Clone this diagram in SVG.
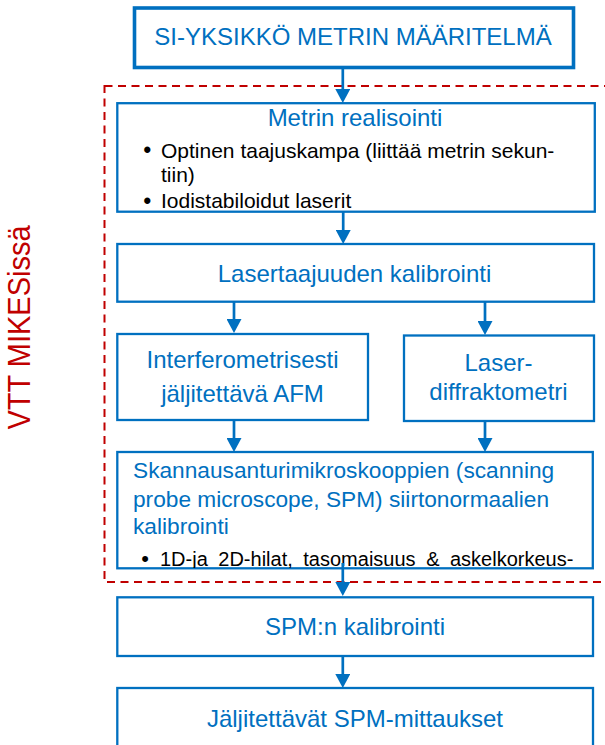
<svg xmlns="http://www.w3.org/2000/svg" width="605" height="745" viewBox="0 0 605 745">
  <style>
    .box { fill: #ffffff; stroke: #0070C0; stroke-width: 2.3; }
    .box-main { fill: #ffffff; stroke: #0070C0; stroke-width: 3.6; }
    .t { font-family: "Liberation Sans", Arial, sans-serif; fill: #0070C0; }
    .b { font-family: "Liberation Sans", Arial, sans-serif; fill: #000000; }
    .mid { text-anchor: middle; }
    .conn { stroke: #0070C0; stroke-width: 2.7; fill: none; marker-end: url(#arrow); }
    .scope { fill: none; stroke: #C00000; stroke-width: 2; stroke-dasharray: 8 5.5; }
  </style>
  <defs>
    <marker id="arrow" viewBox="0 0 14 15" markerWidth="14" markerHeight="15" refX="0" refY="7.5" orient="auto" markerUnits="userSpaceOnUse">
      <path d="M0,0 L14,7.5 L0,15 Z" fill="#0070C0"/>
    </marker>
    <clipPath id="clip-spm-standards">
      <rect x="117" y="452" width="476" height="116"/>
    </clipPath>
  </defs>

  <rect width="605" height="745" fill="#ffffff"/>

  <!-- scope of work done at VTT MIKES -->
  <g id="mikes-scope">
    <rect class="scope" x="104.5" y="86" width="520" height="496"/>
    <text transform="translate(30,327.5) rotate(-90) scale(1,1.08)" text-anchor="middle" font-family="Liberation Sans, Arial, sans-serif" font-size="29" fill="#C00000">VTT MIKESissä</text>
  </g>

  <g id="si-definition">
    <rect class="box-main" x="134.5" y="8" width="439" height="59.5"/>
    <text class="t mid" x="353" y="45" font-size="24">SI-YKSIKKÖ METRIN MÄÄRITELMÄ</text>
  </g>

  <g id="metre-realisation">
    <rect class="box" x="117.3" y="103.2" width="477.5" height="108.5"/>
    <text class="t mid" x="355" y="126" font-size="24">Metrin realisointi</text>
    <text class="b" x="143.3" y="158.2" font-size="23">•</text>
    <text class="b" x="161" y="157.7" font-size="21">Optinen taajuskampa (liittää metrin sekun-</text>
    <text class="b" x="161" y="181.7" font-size="21">tiin)</text>
    <text class="b" x="143.3" y="208.8" font-size="23">•</text>
    <text class="b" x="161" y="208.3" font-size="21">Iodistabiloidut laserit</text>
  </g>

  <g id="laser-frequency">
    <rect class="box" x="117.3" y="244" width="476.7" height="57.7"/>
    <text class="t mid" x="354.5" y="282.3" font-size="24">Lasertaajuuden kalibrointi</text>
  </g>

  <g id="interferometric-afm">
    <rect class="box" x="117.3" y="334" width="250.7" height="86"/>
    <text class="t mid" x="242.5" y="368" font-size="24">Interferometrisesti</text>
    <text class="t mid" x="242.5" y="402" font-size="24">jäljitettävä AFM</text>
  </g>

  <g id="laser-diffractometer">
    <rect class="box" x="404" y="335.5" width="190" height="85.5"/>
    <text class="t mid" x="498.5" y="371" font-size="24">Laser-</text>
    <text class="t mid" x="498.5" y="400" font-size="24">diffraktometri</text>
  </g>

  <g id="spm-standards">
    <rect class="box" x="117.3" y="452" width="475.5" height="116.3"/>
    <text class="t" x="133" y="478.3" font-size="22.7">Skannausanturimikroskooppien (scanning</text>
    <text class="t" x="133" y="507.3" font-size="22.7">probe microscope, SPM) siirtonormaalien</text>
    <text class="t" x="133" y="534" font-size="22.7">kalibrointi</text>
    <!-- justified bullet line, cut off by the box edge -->
    <g clip-path="url(#clip-spm-standards)" class="b" font-size="20">
      <text x="141.3" y="566.2" font-size="22">•</text>
      <text x="160" y="565.7">1D-ja</text>
      <text x="218.3" y="565.7">2D-hilat,</text>
      <text x="303.3" y="565.7">tasomaisuus</text>
      <text x="426.2" y="565.7">&amp;</text>
      <text x="450" y="565.7">askelkorkeus-</text>
    </g>
  </g>

  <g id="spm-calibration">
    <rect class="box" x="117.3" y="597.3" width="475.7" height="58.7"/>
    <text class="t mid" x="355" y="635" font-size="24">SPM:n kalibrointi</text>
  </g>

  <g id="traceable-spm">
    <rect class="box" x="117.3" y="688" width="475.7" height="80"/>
    <text class="t mid" x="355" y="727" font-size="24">Jäljitettävät SPM-mittaukset</text>
  </g>

  <g id="connectors">
    <line class="conn" x1="342.8" y1="67" x2="342.8" y2="89"/>
    <line class="conn" x1="343.2" y1="211.5" x2="343.2" y2="230"/>
    <line class="conn" x1="234" y1="302" x2="234" y2="319"/>
    <line class="conn" x1="485" y1="302" x2="485" y2="321"/>
    <line class="conn" x1="234" y1="420" x2="234" y2="438"/>
    <line class="conn" x1="485" y1="421" x2="485" y2="438"/>
    <line class="conn" x1="342.8" y1="563" x2="342.8" y2="582"/>
    <line class="conn" x1="342.8" y1="656" x2="342.8" y2="674"/>
  </g>
</svg>
